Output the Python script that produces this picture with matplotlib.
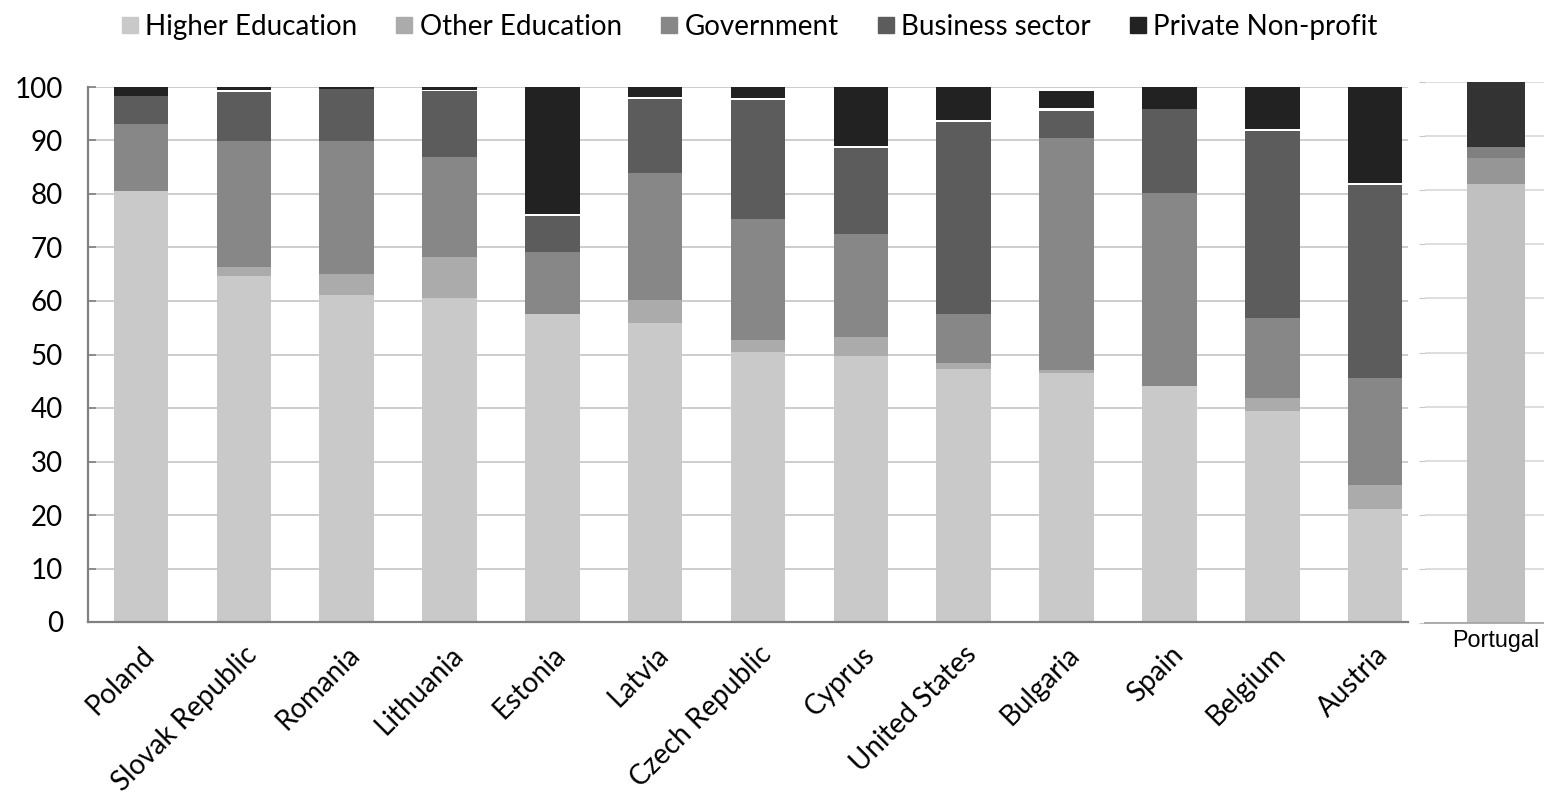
import numpy as np
import matplotlib.pyplot as plt
from matplotlib.lines import Line2D

# shares of R&D personnel by sector (%)
countries = ['Poland', 'Slovak Republic', 'Romania', 'Lithuania', 'Estonia', 'Latvia',
             'Czech Republic', 'Cyprus', 'United States', 'Bulgaria', 'Spain', 'Belgium', 'Austria']
higher_edu = [80.5, 64.6, 61.1, 60.6, 57.6, 55.8, 50.4, 49.7, 47.2, 46.6, 44.1, 39.4, 21.2]
other_edu = [0.0, 1.8, 3.9, 7.6, 0.0, 4.4, 2.4, 3.5, 1.3, 0.5, 0.0, 2.5, 4.4]
government = [12.6, 23.6, 25.0, 18.8, 11.6, 23.7, 22.5, 19.4, 9.0, 43.4, 36.1, 15.0, 20.1]
business = [5.2, 9.1, 9.6, 12.2, 6.6, 13.8, 22.2, 16.0, 36.0, 5.1, 15.7, 34.9, 36.0]
unallocated = [0.0, 0.4, 0.0, 0.3, 0.5, 0.4, 0.4, 0.4, 0.4, 0.4, 0.0, 0.4, 0.4]
private_np = [1.7, 0.5, 0.4, 0.5, 23.7, 1.9, 2.1, 11.0, 6.1, 3.3, 4.1, 7.8, 17.9]

# Portugal panel (separate chart)
pt_label = 'Portugal'
pt_values = [81.2, 4.8, 2.0, 12.0]

labels = ['Higher Education', 'Other Education', 'Government', 'Business sector', 'Private Non-profit']
colors = ['#c9c9c9', '#ababab', '#878787', '#5c5c5c', '#222222']
pt_colors = ['#c0c0c0', '#969696', '#808080', '#333333']

W, H = 1544, 808
fig = plt.figure(figsize=(W / 100, H / 100), dpi=100)
plt.rcParams['font.family'] = ['Lato', 'DejaVu Sans']

# main chart
ax = fig.add_axes([88 / W, 1 - 622 / H, (1408 - 88) / W, (622 - 87) / H])
x = np.arange(len(countries))
series = [higher_edu, other_edu, government, business, unallocated, private_np]
series_colors = colors[:4] + ['white', colors[4]]
bottom = np.zeros(len(countries))
for vals, c in zip(series, series_colors):
    ax.bar(x, vals, width=0.53, bottom=bottom, color=c, zorder=2)
    bottom += np.array(vals)

ax.set_xlim(-0.516, 12.32)
ax.set_ylim(0, 100)
ax.set_yticks(range(0, 101, 10))
ax.yaxis.grid(True, color='#c0c0c0', linewidth=1.1, zorder=0)
ax.set_axisbelow(True)
for s in ['top', 'right']:
    ax.spines[s].set_visible(False)
for s in ['left', 'bottom']:
    ax.spines[s].set_color('#808080')
    ax.spines[s].set_linewidth(1.6)
ax.tick_params(axis='y', direction='in', length=6, width=1.2, color='#808080',
               labelsize=20, pad=18)
ax.tick_params(axis='x', length=0, labelsize=20, pad=14)
ax.set_xticks(x)
ax.set_xticklabels(countries, rotation=45, ha='right', rotation_mode='anchor')

# Portugal panel
ax2 = fig.add_axes([1425 / W, 1 - 623 / H, (W - 1425) / W, (623 - 82) / H])
pt_bottom = 0
for v, c in zip(pt_values, pt_colors):
    ax2.bar(0, v, width=0.6, bottom=pt_bottom, color=c, zorder=2)
    pt_bottom += v
ax2.set_xlim(-0.734, 0.496)
ax2.set_ylim(0, 100)
ax2.set_yticks(range(0, 101, 10))
ax2.set_yticklabels([])
ax2.yaxis.grid(True, color='#d4d4d4', linewidth=1.1, zorder=0)
ax2.set_axisbelow(True)
for s in ['top', 'right', 'left']:
    ax2.spines[s].set_visible(False)
ax2.spines['bottom'].set_color('#a0a0a0')
ax2.spines['bottom'].set_linewidth(1.2)
ax2.tick_params(axis='y', direction='out', length=4, color='#c8c8c8')
ax2.tick_params(axis='x', length=0, pad=4)
ax2.set_xticks([0])
ax2.set_xticklabels([pt_label], fontsize=16.8, family=['Liberation Sans', 'DejaVu Sans'])

# legend
handles = [Line2D([], [], marker='s', linestyle='', color=c, markersize=12) for c in colors]
fig.legend(handles, labels, loc='center', bbox_to_anchor=(748 / W, 1 - 27 / H), ncol=5,
           frameon=False, fontsize=20, handletextpad=0.15, columnspacing=1.3,
           handlelength=0.8)

plt.savefig('out.png', dpi=100)
